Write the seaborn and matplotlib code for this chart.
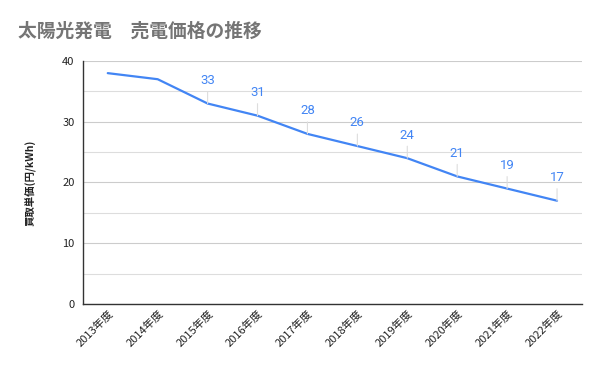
import numpy as np
import pandas as pd
import seaborn as sns
import matplotlib.pyplot as plt
from matplotlib.ticker import MultipleLocator

years = ['2013年度', '2014年度', '2015年度', '2016年度', '2017年度',
         '2018年度', '2019年度', '2020年度', '2021年度', '2022年度']
prices = [38, 37, 33, 31, 28, 26, 24, 21, 19, 17]
# labels for the first two points are not drawn in the original
show_label = [False, False, True, True, True, True, True, True, True, True]

sns.set_style('white')
plt.rcParams['font.family'] = ['Noto Sans CJK JP', 'DejaVu Sans']

df = pd.DataFrame({'year': years, 'price': prices})

fig = plt.figure(figsize=(6, 3.71), dpi=100)
ax = fig.add_axes([0.138, 0.1806, 0.832, 0.655])

blue = '#4285F4'
sns.lineplot(data=df, x='year', y='price', color=blue, linewidth=1.6, ax=ax)

for i, (v, show) in enumerate(zip(prices, show_label)):
    if not show:
        continue
    ax.annotate(str(v), xy=(i, v), xytext=(0, 12), textcoords='offset points',
                ha='center', va='bottom', color=blue, fontsize=9.5,
                family=['Roboto', 'DejaVu Sans'],
                arrowprops=dict(arrowstyle='-', color='#dddddd', lw=0.8,
                                shrinkA=1, shrinkB=0))

ax.set_xlim(-0.5, len(years) - 0.5)
ax.set_ylim(0, 40)
ax.yaxis.set_major_locator(MultipleLocator(10))
ax.yaxis.set_minor_locator(MultipleLocator(5))
ax.grid(axis='y', which='major', color='#cccccc', lw=0.8)
ax.grid(axis='y', which='minor', color='#dddddd', lw=0.8)
ax.set_axisbelow(True)

for s in ['top', 'right']:
    ax.spines[s].set_visible(False)
for s in ['left', 'bottom']:
    ax.spines[s].set_color('#333333')
    ax.spines[s].set_linewidth(1.0)

ax.tick_params(axis='y', which='major', direction='inout', length=8, width=0.8,
               color='#333333', labelsize=8, labelcolor='#222222', pad=2)
ax.tick_params(axis='y', which='minor', direction='inout', length=5, width=0.8,
               color='#333333')
ax.tick_params(axis='x', length=0, labelsize=8, labelcolor='#222222', pad=3)
plt.setp(ax.get_xticklabels(), rotation=45, ha='right', rotation_mode='anchor')

ax.set_xlabel('')
ax.set_ylabel('買取単価(円/kWh)', fontsize=7.5, fontweight='bold', color='#222222', labelpad=18)

fig.text(0.03, 0.915, '太陽光発電　売電価格の推移', fontsize=13.5, fontweight='bold',
         color='#757575', ha='left', va='center')

plt.savefig('out.png', dpi=100)
